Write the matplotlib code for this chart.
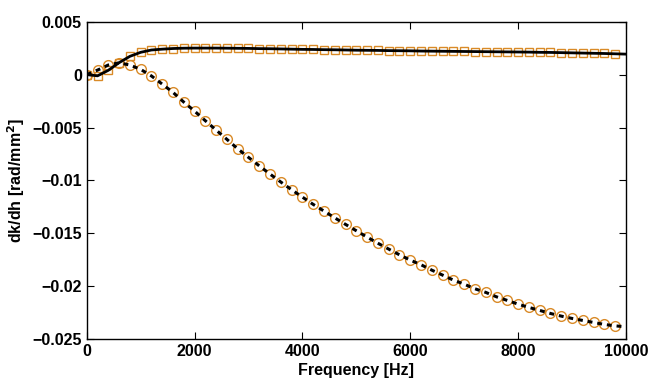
import numpy as np
import matplotlib.pyplot as plt

plt.rcParams['font.family'] = ['Liberation Sans', 'DejaVu Sans']
plt.rcParams['font.weight'] = 'bold'

# frequency samples [Hz]
freq = np.arange(0, 10000, 200)

# dk/dh values [rad/mm^2]
square_vals = [0.0, -0.00012, 0.0004, 0.00112, 0.00172, 0.0021, 0.00232, 0.0024,
               0.00246, 0.00249, 0.0025, 0.0025, 0.0025, 0.00249, 0.00248, 0.00247,
               0.00245, 0.00244, 0.00242, 0.0024, 0.00238, 0.00237, 0.00235, 0.00234,
               0.00232, 0.0023, 0.00229, 0.00228, 0.00226, 0.00225, 0.00224, 0.00222,
               0.00221, 0.0022, 0.00219, 0.00218, 0.00217, 0.00216, 0.00215, 0.00214,
               0.00213, 0.00212, 0.0021, 0.00209, 0.00207, 0.00205, 0.00203, 0.00201,
               0.00199, 0.00196]
circle_vals = [0.0, 0.00042, 0.0009, 0.00111, 0.0009, 0.00049, -0.00013, -0.0009,
               -0.00168, -0.0026, -0.00345, -0.00436, -0.00524, -0.00612, -0.00701,
               -0.00782, -0.00862, -0.0094, -0.01015, -0.01088, -0.01157, -0.01226,
               -0.01289, -0.01353, -0.01415, -0.01475, -0.01535, -0.01593, -0.01648,
               -0.01702, -0.01752, -0.01796, -0.01847, -0.01894, -0.01941, -0.01979,
               -0.02023, -0.02057, -0.02099, -0.02133, -0.02168, -0.02199, -0.02227,
               -0.02256, -0.02281, -0.02303, -0.02322, -0.02341, -0.0236, -0.02373]

# curve end points at 10000 Hz
freq_end = 10000
square_end = 0.00193
circle_end = -0.02382

orange = '#D98A27'

fig = plt.figure(figsize=(6.52, 3.86), dpi=100)
ax = fig.add_axes([0.133, 0.121, 0.827, 0.823])

ax.plot(freq, square_vals, linestyle='none', marker='s', markersize=5.2,
        markerfacecolor='none', markeredgecolor=orange, markeredgewidth=1.0)
ax.plot(freq, circle_vals, linestyle='none', marker='o', markersize=7,
        markerfacecolor='none', markeredgecolor=orange, markeredgewidth=1.0)

ax.plot(list(freq) + [freq_end], square_vals + [square_end], color='black', lw=2)
ax.plot(list(freq) + [freq_end], circle_vals + [circle_end], color='black', lw=2.2,
        linestyle=(0, (1.6, 1.6)))

ax.set_xlim(0, 10000)
ax.set_ylim(-0.025, 0.005)
ax.set_xticks(np.arange(0, 10001, 2000))
ax.set_yticks([-0.025, -0.02, -0.015, -0.01, -0.005, 0, 0.005])
ax.set_yticklabels(['\u22120.025', '\u22120.02', '\u22120.015', '\u22120.01', '\u22120.005', '0', '0.005'])

ax.tick_params(direction='in', top=True, right=True, length=5, labelsize=11.5, width=0.8)
for sp in ax.spines.values():
    sp.set_linewidth(1.0)

ax.set_xlabel('Frequency [Hz]', fontsize=11.5, fontweight='bold', labelpad=3)
ax.set_ylabel('dk/dh [rad/mm$^\\mathbf{2}$]', fontsize=11.5, fontweight='bold', labelpad=4)

fig.savefig('out.png', dpi=100)
